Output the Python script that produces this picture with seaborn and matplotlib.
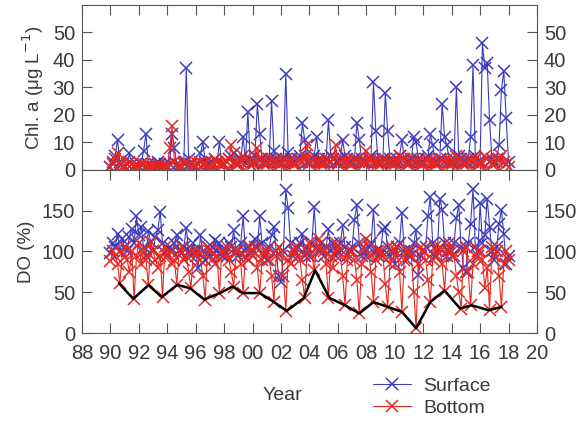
import numpy as np
import pandas as pd
import matplotlib
matplotlib.use("Agg")
import matplotlib.pyplot as plt
import seaborn as sns

# Sampling dates (every two months, 1990-2018)
datas = pd.date_range("1990-01-01", "2018-01-01", freq="2MS")
tempo = datas.year + (datas.month - 1) / 12

# Chl. a (ug/L) - one row per year
chl_superficie = [
    1, 3, 5, 11, 3, 2,
    1, 2, 6, 2, 1, 2,
    1, 2, 7, 13, 2, 1,
    1, 2, 3, 2, 1, 2,
    1, 2, 13, 8, 2, 1,
    1, 3, 37, 4, 2, 1,
    1, 2, 6, 10, 3, 2,
    2, 3, 4, 3, 10, 2,
    2, 3, 4, 5, 6, 3,
    2, 4, 12, 3, 21, 4,
    3, 5, 24, 13, 4, 3,
    3, 4, 25, 7, 4, 3,
    3, 4, 35, 6, 4, 3,
    3, 4, 5, 17, 11, 3,
    3, 4, 5, 12, 4, 3,
    3, 4, 18, 5, 4, 3,
    3, 4, 11, 5, 4, 3,
    3, 4, 17, 11, 4, 3,
    3, 4, 5, 32, 14, 3,
    3, 4, 28, 14, 4, 3,
    3, 4, 5, 11, 4, 3,
    3, 4, 12, 10, 4, 3,
    3, 4, 5, 13, 9, 3,
    3, 4, 24, 12, 9, 3,
    3, 4, 30, 5, 4, 3,
    3, 4, 12, 38, 5, 3,
    3, 46, 37, 39, 18, 4,
    3, 4, 9, 29, 36, 19,
    3,
]
chl_fundo = [
    1, 2, 4, 6, 2, 1,
    1, 2, 3, 2, 1, 1,
    1, 2, 2, 1, 1, 1,
    1, 1, 2, 1, 1, 1,
    1, 8, 16, 3, 1, 1,
    1, 2, 3, 2, 1, 1,
    1, 2, 3, 2, 2, 1,
    1, 2, 4, 3, 2, 2,
    2, 3, 4, 9, 3, 2,
    2, 3, 5, 4, 3, 2,
    2, 3, 8, 4, 3, 2,
    2, 3, 4, 3, 3, 2,
    2, 3, 4, 3, 3, 2,
    2, 3, 4, 3, 5, 9,
    2, 3, 4, 3, 3, 2,
    2, 3, 4, 3, 4, 9,
    2, 3, 4, 3, 3, 2,
    2, 3, 4, 3, 3, 2,
    7, 3, 4, 3, 3, 2,
    2, 3, 4, 3, 3, 2,
    2, 3, 5, 4, 3, 2,
    2, 3, 4, 3, 3, 2,
    2, 3, 4, 3, 3, 2,
    2, 3, 4, 3, 4, 2,
    2, 3, 5, 4, 3, 2,
    2, 3, 4, 3, 4, 2,
    2, 3, 5, 4, 3, 2,
    2, 3, 4, 5, 3, 2,
    1,
]

# DO (%) - one row per year
do_superficie = [
    98, 110, 105, 122, 100, 115,
    105, 100, 118, 128, 110, 143,
    120, 130, 105, 95, 125, 112,
    100, 118, 126, 149, 110, 98,
    95, 105, 100, 110, 120, 100,
    98, 105, 129, 100, 95, 110,
    100, 80, 120, 100, 90, 105,
    95, 105, 114, 100, 110, 95,
    100, 95, 110, 105, 126, 100,
    95, 110, 143, 100, 105, 98,
    100, 115, 105, 143, 110, 95,
    90, 105, 120, 130, 100, 70,
    62, 100, 175, 153, 110, 95,
    100, 105, 110, 122, 95, 105,
    95, 110, 154, 105, 100, 110,
    95, 105, 127, 100, 110, 95,
    100, 110, 132, 105, 95, 100,
    105, 139, 157, 110, 95, 100,
    95, 105, 110, 151, 100, 95,
    100, 126, 130, 105, 95, 100,
    85, 105, 110, 147, 100, 90,
    95, 100, 110, 126, 71, 95,
    100, 105, 143, 167, 110, 95,
    100, 165, 151, 110, 95, 100,
    95, 110, 141, 157, 105, 80,
    75, 110, 134, 177, 105, 95,
    159, 110, 120, 165, 130, 100,
    90, 105, 134, 151, 121, 85,
    95,
]
do_fundo = [
    88, 100, 95, 85, 61, 98,
    105, 90, 75, 100, 42, 95,
    110, 85, 100, 90, 59, 112,
    100, 90, 80, 95, 44, 105,
    95, 100, 85, 90, 59, 100,
    105, 90, 95, 75, 55, 100,
    95, 100, 90, 70, 41, 105,
    100, 90, 85, 95, 49, 100,
    95, 105, 90, 75, 57, 100,
    100, 85, 49, 95, 90, 105,
    95, 105, 80, 49, 90, 100,
    100, 90, 70, 38, 95, 105,
    95, 70, 27, 90, 85, 100,
    105, 95, 90, 65, 43, 100,
    110, 95, 77, 105, 115, 100,
    100, 85, 43, 95, 80, 110,
    105, 95, 70, 34, 90, 100,
    100, 90, 65, 24, 85, 105,
    115, 95, 75, 38, 90, 100,
    100, 95, 60, 32, 85, 105,
    95, 105, 75, 26, 90, 100,
    100, 95, 50, 6, 85, 105,
    100, 90, 65, 38, 90, 105,
    95, 105, 85, 52, 100, 110,
    100, 95, 70, 50, 30, 100,
    105, 75, 34, 85, 95, 100,
    100, 90, 55, 80, 28, 105,
    95, 100, 70, 32, 85, 100,
    90,
]

# Annual minimum of bottom DO (black line)
anos_min = [1990.6, 1991.6, 1992.7, 1993.6, 1994.7, 1995.6, 1996.6, 1997.7,
            1998.6, 1999.3, 2000.5, 2001.5, 2002.4, 2003.6, 2004.4, 2005.4,
            2006.5, 2007.5, 2008.5, 2009.5, 2010.5, 2011.5, 2012.5, 2013.5,
            2014.6, 2015.4, 2016.6, 2017.5]
do_min = [61, 42, 59, 44, 59, 55, 41, 49, 57, 49, 49, 38, 27, 43, 77, 43,
          34, 24, 38, 32, 26, 6, 38, 52, 30, 34, 28, 32]

azul = "#3b3bbd"
vermelho = "#e8261f"
cinza = "#3a3a3a"

sns.set_style("ticks")
plt.rcParams["font.family"] = ["Liberation Sans", "DejaVu Sans"]
plt.rcParams["axes.edgecolor"] = "#555555"
plt.rcParams["xtick.color"] = "#555555"
plt.rcParams["ytick.color"] = "#555555"
plt.rcParams["xtick.labelcolor"] = cinza
plt.rcParams["ytick.labelcolor"] = cinza

fig = plt.figure(figsize=(5.81, 4.22), dpi=100)
ax1 = fig.add_axes([0.1411, 0.5972, 0.7831, 0.391])
ax2 = fig.add_axes([0.1411, 0.2109, 0.7831, 0.3863], sharex=ax1)

estilo = dict(marker="x", markersize=9, mew=1.1, lw=0.8, estimator=None, sort=False)

sns.lineplot(x=tempo, y=chl_superficie, color=azul, mec=azul, ax=ax1, label="Surface", **estilo)
sns.lineplot(x=tempo, y=chl_fundo, color=vermelho, mec=vermelho, ax=ax1, label="Bottom", **estilo)
sns.lineplot(x=tempo, y=do_superficie, color=azul, mec=azul, ax=ax2, **estilo)
sns.lineplot(x=tempo, y=do_fundo, color=vermelho, mec=vermelho, ax=ax2, **estilo)
sns.lineplot(x=anos_min, y=do_min, color="black", lw=1.8, ax=ax2, estimator=None, sort=False)

handles, labels = ax1.get_legend_handles_labels()
ax1.get_legend().remove()

anos = list(range(1988, 2021, 2))
ax2.set_xlim(1988, 2020)
ax2.set_xticks(anos)
ax2.set_xticklabels([f"{a % 100:02d}" for a in anos])

ax1.set_ylim(0, 60)
ax1.set_yticks([0, 10, 20, 30, 40, 50])
ax2.set_ylim(0, 200)
ax2.set_yticks([0, 50, 100, 150])

for ax in (ax1, ax2):
    ax.tick_params(direction="in", length=7, width=0.8, top=True, right=True,
                   labelright=True, labelsize=14.5, pad=5)
    ax.set_xlabel("")
ax1.tick_params(labelbottom=False)
ax2.tick_params(axis="x", pad=8)

ax1.set_ylabel("Chl. a (\u03bcg L$^{-1}$)", fontsize=13.5, color=cinza, labelpad=5)
ax2.set_ylabel("DO (%)", fontsize=13.5, color=cinza, labelpad=5)
fig.text(282 / 581, 1 - 395 / 422, "Year", fontsize=14, color=cinza, ha="center", va="center")

fig.legend(handles, labels, loc="center left", bbox_to_anchor=(355 / 581, 1 - 397 / 422),
           frameon=False, fontsize=14, handlelength=2.0, handletextpad=0.6,
           labelspacing=0.2, labelcolor=cinza)

fig.savefig("out.png", dpi=100)
